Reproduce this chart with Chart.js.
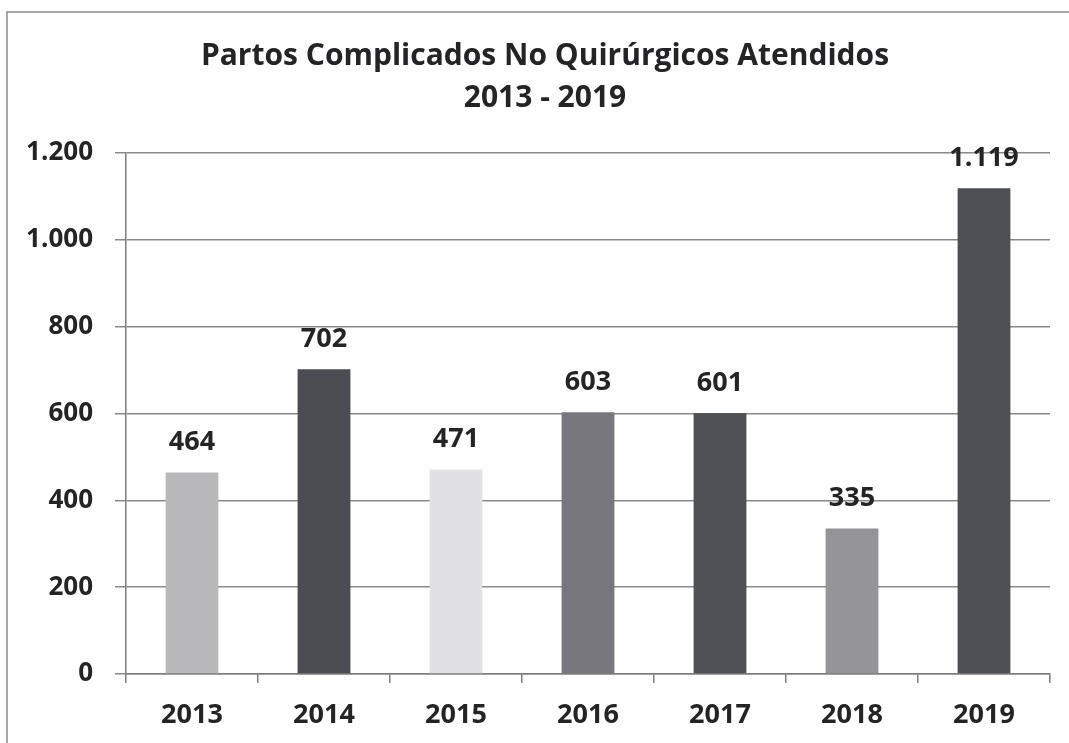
<!DOCTYPE html>
<html>
<head>
<meta charset="utf-8">
<script src="https://cdn.jsdelivr.net/npm/chart.js@4/dist/chart.umd.min.js"></script>
<style>
  html, body { margin: 0; padding: 0; background: #fff; }
  #wrap { width: 1069px; height: 743px; }
</style>
</head>
<body>
<div id="wrap"><canvas id="barChart"></canvas></div>
<script>
// data
var years = ["2013", "2014", "2015", "2016", "2017", "2018", "2019"];
var partos = [464, 702, 471, 603, 601, 335, 1119];
var barColors = ["#b9b9bc", "#4a4d52", "#e1e1e3", "#77777d", "#4e5156", "#949499", "#4d5055"];
var titleLines = ["Partos Complicados No Quirúrgicos Atendidos", "2013 - 2019"];

var FONT = "'Open Sans', 'Noto Sans', sans-serif";
var INK = "#242426";

// 1.119 style thousands
function fmt(v) {
  return String(v).replace(/\B(?=(\d{3})+(?!\d))/g, ".");
}

// left + top page frame, and the title (sits a little right of centre)
var frame = {
  id: 'frame',
  beforeDraw: function(chart) {
    var c = chart.ctx;
    c.save();
    c.strokeStyle = "#8c8c8c";
    c.lineWidth = 1.5;
    c.beginPath();
    c.moveTo(7, 743);
    c.lineTo(7, 12);
    c.lineTo(1069, 12);
    c.stroke();

    c.font = "bold 30px " + FONT;
    c.fillStyle = INK;
    c.textAlign = "center";
    c.textBaseline = "middle";
    c.fillText(titleLines[0], 545, 56);
    c.fillText(titleLines[1], 545, 98);
    c.restore();
  }
};

// value labels above bars
var valueLabels = {
  id: 'valueLabels',
  afterDatasetsDraw: function(chart) {
    var c = chart.ctx;
    var meta = chart.getDatasetMeta(0);
    c.save();
    c.font = "bold 27px " + FONT;
    c.fillStyle = INK;
    c.textAlign = "center";
    c.textBaseline = "middle";
    meta.data.forEach(function(bar, i) {
      c.fillText(fmt(partos[i]), bar.x, bar.y - 30);
    });
    c.restore();
  }
};

var ctx = document.getElementById("barChart").getContext('2d');
var chart = new Chart(ctx, {
  type: 'bar',
  data: {
    labels: years,
    datasets: [{
      data: partos,
      backgroundColor: barColors,
      borderWidth: 0,
      barPercentage: 0.4,
      categoryPercentage: 1
    }]
  },
  options: {
    responsive: true,
    maintainAspectRatio: false,
    animation: false,
    layout: { padding: { top: 153, right: 19, bottom: 0, left: 0 } },
    plugins: {
      legend: { display: false },
      tooltip: { enabled: false },
      title: { display: false }
    },
    scales: {
      x: {
        offset: true,
        grid: { drawOnChartArea: false, drawTicks: true, tickLength: 9, color: "#7d7d7d", lineWidth: 1.5 },
        border: { display: true, color: "#7d7d7d", width: 1.5 },
        ticks: { color: INK, padding: 16, font: { family: FONT, size: 27, weight: 'bold' } },
        afterFit: function(scale) { scale.height = 69; }
      },
      y: {
        min: 0,
        max: 1200,
        ticks: {
          stepSize: 200,
          color: INK,
          padding: 22,
          font: { family: FONT, size: 26, weight: 'bold' },
          callback: function(v) { return fmt(v); }
        },
        grid: { color: "#8a8a8a", lineWidth: 1.5, tickLength: 11 },
        border: { display: true, color: "#7d7d7d", width: 1.5 },
        afterFit: function(scale) { scale.width = 126; }
      }
    }
  },
  plugins: [frame, valueLabels]
});
</script>
</body>
</html>
